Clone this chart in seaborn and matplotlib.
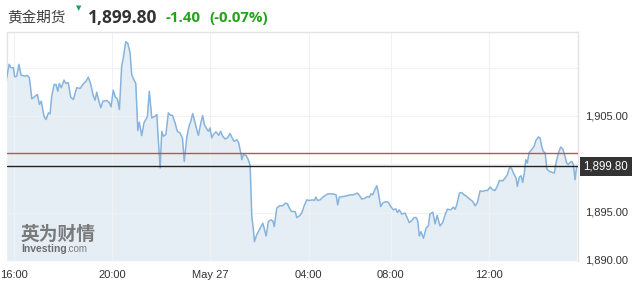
import numpy as np
import pandas as pd
import matplotlib
matplotlib.use("Agg")
import matplotlib.pyplot as plt
import seaborn as sns

# ---- data: 5-minute bar index (from 16:00, trading time) and gold futures price ----
bar_idx = [-3.6, -2.4, -1.5, -0.3, 0.3, 1.3, 2.4, 3.4, 5.4, 6.5, 7.5, 8.7, 11.4, 12.4, 13.3,
           14.7, 15.6, 16.8, 17.6, 18.4, 19.6, 20.5, 21.4, 22.1, 23.1, 24.4, 25.4, 26.5, 27.7,
           29.0, 30.6, 32.3, 33.6, 35.2, 36.3, 37.5, 38.8, 39.6, 40.4, 41.4, 42.4, 43.4, 45.3,
           46.6, 47.4, 48.5, 49.5, 50.5, 51.5, 52.6, 53.4, 54.6, 55.6, 56.7, 57.5, 58.3, 59.5,
           60.5, 61.2, 62.4, 63.5, 65.2, 66.1, 67.3, 68.9, 69.8, 70.5, 71.4, 72.2, 73.0, 74.2,
           75.4, 76.6, 77.4, 78.7, 79.8, 81.1, 82.3, 83.2, 84.4, 85.5, 86.4, 87.3, 88.5, 89.3,
           90.1, 91.3, 92.2, 93.0, 94.2, 95.0, 95.8, 96.6, 97.4, 98.7, 100.1, 101.0, 102.0,
           103.1, 104.3, 105.6, 106.6, 107.5, 108.9, 109.8, 111.0, 111.3, 112.1, 113.4, 114.5,
           115.4, 116.2, 117.0, 117.5, 118.6, 119.9, 121.6, 123.2, 124.3, 125.5, 126.5, 127.2,
           128.4, 129.7, 131.3, 132.6, 133.6, 134.6, 135.7, 137.4, 138.2, 139.5, 140.6, 141.8,
           143.1, 144.3, 145.8, 146.8, 147.5, 148.3, 149.6, 150.9, 152.0, 153.1, 154.5, 156.1,
           157.4, 158.2, 159.0, 161.0, 162.6, 164.2, 165.6, 166.7, 167.8, 168.6, 170.0, 171.6,
           172.7, 173.7, 174.4, 175.3, 176.5, 177.3, 178.1, 179.2, 180.2, 181.8, 183.0, 184.1,
           185.4, 186.6, 187.4, 188.3, 189.5, 191.1, 191.9, 193.2, 194.4, 195.5, 196.5, 197.3,
           198.1, 198.9, 200.1, 201.4, 202.5, 203.3, 204.7, 205.8, 206.8, 208.2, 209.5, 210.7,
           211.8, 213.5, 214.7, 215.6, 216.4, 217.7, 218.8, 220.0, 220.9, 222.1, 223.2, 224.2,
           225.4, 226.5, 227.8, 229.1, 230.2, 231.4, 232.7, 234.0, 235.1, 236.3, 237.2, 238.9,
           240.0, 241.1, 242.1, 243.1, 244.1, 245.4, 246.0, 247.0, 247.8, 248.6, 249.4, 250.1,
           250.9, 251.7, 253.0, 254.2, 255.1, 256.3, 257.1, 257.9, 258.7, 259.6, 260.4, 261.7,
           263.1, 264.1, 264.9, 266.1, 267.2, 268.2, 269.3, 270.1, 270.9, 271.8, 272.6, 273.4,
           274.2, 275.0]
price = [1909.00, 1910.39, 1910.04, 1910.04, 1909.10, 1909.17, 1910.39, 1909.27, 1909.17, 1909.24,
         1909.00, 1906.81, 1907.26, 1906.22, 1906.56, 1904.94, 1904.66, 1905.35, 1905.25, 1907.08,
         1908.30, 1908.30, 1907.60, 1908.41, 1907.96, 1908.75, 1908.41, 1908.48, 1906.98, 1906.74,
         1907.96, 1907.89, 1908.30, 1908.65, 1909.06, 1908.30, 1907.08, 1906.67, 1907.50, 1906.64,
         1905.88, 1906.56, 1906.64, 1906.40, 1905.98, 1907.71, 1906.98, 1906.81, 1905.70, 1910.21,
         1911.08, 1912.75, 1912.57, 1911.60, 1909.34, 1908.90, 1908.41, 1903.51, 1904.38, 1902.99,
         1904.31, 1905.00, 1907.60, 1904.83, 1905.00, 1905.18, 1902.57, 1899.63, 1903.44, 1902.92,
         1903.09, 1905.35, 1905.10, 1905.10, 1904.31, 1903.44, 1903.27, 1902.75, 1900.31, 1902.75,
         1903.96, 1904.48, 1905.28, 1904.31, 1903.61, 1903.02, 1904.31, 1905.07, 1904.14, 1903.69,
         1903.44, 1903.79, 1902.75, 1903.09, 1903.38, 1903.02, 1903.44, 1902.92, 1902.65, 1902.75,
         1903.20, 1902.75, 1902.40, 1902.57, 1902.23, 1901.01, 1900.49, 1901.01, 1900.94, 1900.49,
         1899.86, 1894.58, 1893.20, 1891.98, 1892.68, 1893.20, 1893.90, 1892.57, 1894.06, 1894.24,
         1894.14, 1893.54, 1895.46, 1895.70, 1895.70, 1895.98, 1895.91, 1895.46, 1895.10, 1895.10,
         1894.48, 1894.66, 1894.94, 1895.70, 1896.32, 1896.25, 1896.32, 1896.25, 1896.60, 1896.25,
         1896.32, 1896.60, 1896.74, 1896.92, 1896.95, 1896.92, 1896.84, 1895.80, 1896.60, 1896.67,
         1896.74, 1896.84, 1896.84, 1896.92, 1897.02, 1896.84, 1896.40, 1896.50, 1896.67, 1896.60,
         1896.95, 1896.84, 1897.44, 1897.78, 1897.02, 1895.63, 1895.98, 1896.15, 1896.04, 1895.63,
         1895.28, 1895.39, 1895.00, 1895.28, 1894.83, 1894.94, 1894.58, 1893.96, 1894.17, 1894.48,
         1894.48, 1894.14, 1892.57, 1893.02, 1892.33, 1893.38, 1893.61, 1894.86, 1895.04, 1893.82,
         1894.71, 1893.61, 1893.96, 1894.76, 1895.35, 1895.28, 1895.56, 1895.35, 1895.80, 1897.02,
         1897.08, 1896.84, 1896.74, 1896.50, 1896.32, 1896.15, 1895.70, 1896.04, 1897.26, 1897.19,
         1897.29, 1897.29, 1897.65, 1897.36, 1897.29, 1897.78, 1898.33, 1898.30, 1898.58, 1898.93,
         1899.63, 1899.63, 1899.10, 1898.58, 1897.71, 1898.69, 1898.82, 1898.13, 1899.10, 1900.49,
         1900.15, 1901.19, 1901.53, 1901.88, 1902.50, 1902.85, 1902.75, 1901.88, 1901.35, 1901.19,
         1899.52, 1899.27, 1899.17, 1899.10, 1900.15, 1901.19, 1901.81, 1901.60, 1900.83, 1900.15,
         1899.97, 1900.21, 1900.31, 1899.97, 1898.41, 1899.80]

tick_bars = [0, 48, 96, 144, 184, 232]
tick_labels = ["16:00", "20:00", "May 27", "04:00", "08:00", "12:00"]
y_grid = [1890, 1895, 1900, 1905, 1910]
y_label_values = [1890, 1895, 1905]

title_name = "黄金期货"
last_price = 1899.80
prev_close = 1901.20
change = -1.40
change_pct = -0.07

# ---- figure ----
W, H = 632, 288
sns.set_theme(style="white")
plt.rcParams['font.family'] = ['Liberation Sans', 'Noto Sans CJK SC', 'DejaVu Sans']

fig = plt.figure(figsize=(W / 100, H / 100), dpi=100)
ax = fig.add_axes([7 / W, 1 - 260.7 / H, (577.7 - 7) / W, (260.7 - 32) / H])

df = pd.DataFrame({"bar": bar_idx, "price": price})
ymin, ymax = 1890, 1913.75
ax.fill_between(df["bar"], df["price"], ymin, color="#e5eef4", lw=0, zorder=1)
sns.lineplot(data=df, x="bar", y="price", ax=ax, color="#87b3dc", lw=1.1, zorder=3)

ax.set_xlim(-3.45, 275.5)
ax.set_ylim(ymin, ymax)

# grid
for b in tick_bars:
    ax.axvline(b, color="#eff1f3", lw=0.8, zorder=2)
for g in y_grid:
    ax.axhline(g, color="#eff1f3", lw=0.8, zorder=2)

# reference lines
ax.axhline(prev_close, color="#c9504a", lw=1.0, zorder=4)
ax.axhline(last_price, color="#222222", lw=1.0, zorder=4)

ax.set_xticks(tick_bars)
ax.set_xticklabels(tick_labels)
ax.tick_params(axis="x", length=0, pad=7, labelsize=8, labelcolor="#333333")
ax.set_yticks([])
ax.set_xlabel("")
ax.set_ylabel("")
for s in ["left", "bottom"]:
    ax.spines[s].set_visible(False)
ax.spines["top"].set_color("#e3e3e3")
ax.spines["right"].set_color("#e3e3e3")
ax.spines["top"].set_linewidth(1.0)
ax.spines["right"].set_linewidth(1.0)

# right-hand y labels
for v in y_label_values:
    ax.annotate(f"{v:,.2f}", xy=(1, v), xycoords=("axes fraction", "data"),
                xytext=(5, 0), textcoords="offset points", ha="left", va="center",
                fontsize=8, color="#333333")
ax.annotate(f"{last_price:,.2f}", xy=(1, last_price), xycoords=("axes fraction", "data"),
            xytext=(4, 0), textcoords="offset points", ha="left", va="center",
            fontsize=8.3, color="white",
            bbox=dict(boxstyle="square,pad=0.32", fc="#333333", ec="none"))

# left border line of plot
ax.plot([0, 0], [0.79, 1], transform=ax.transAxes, color="#e3e3e3", lw=1.0, clip_on=False)

# watermark
ax.text(21 / W, 1 - 234 / H, "英为财情", transform=fig.transFigure, fontsize=13.5,
        fontweight="bold", color="#6e6e6e", family=["Noto Sans CJK SC"], va="center", ha="left",
        alpha=0.9, zorder=5)
ax.text(21 / W, 1 - 249 / H, "Investing", transform=fig.transFigure, fontsize=7.5,
        fontweight="bold", color="#6e6e6e", va="center", ha="left", zorder=5)
ax.text(66 / W, 1 - 249.5 / H, ".com", transform=fig.transFigure, fontsize=7,
        color="#7a7a7a", va="center", ha="left", zorder=5)

# header
green = "#21a41a"
fig.text(7 / W, 1 - 18 / H, title_name, fontsize=10.5, color="#404040",
         family=["Noto Sans CJK SC"], va="center", ha="left")
fig.text(79 / W, 1 - 8 / H, "▼", fontsize=5, color="#14a35a", va="center", ha="center",
         family=["DejaVu Sans"])
fig.text(88 / W, 1 - 18 / H, f"{last_price:,.2f}", fontsize=12.5, fontweight="bold",
         color="#333333", family=["Open Sans"], va="center", ha="left")
fig.text(165 / W, 1 - 18 / H, f"{change:.2f}", fontsize=10.8, fontweight="bold",
         color=green, family=["Open Sans"], va="center", ha="left")
fig.text(209 / W, 1 - 18 / H, f"({change_pct:.2f}%)", fontsize=10.8, fontweight="bold",
         color=green, family=["Open Sans"], va="center", ha="left")

fig.savefig("out.png", dpi=100)
